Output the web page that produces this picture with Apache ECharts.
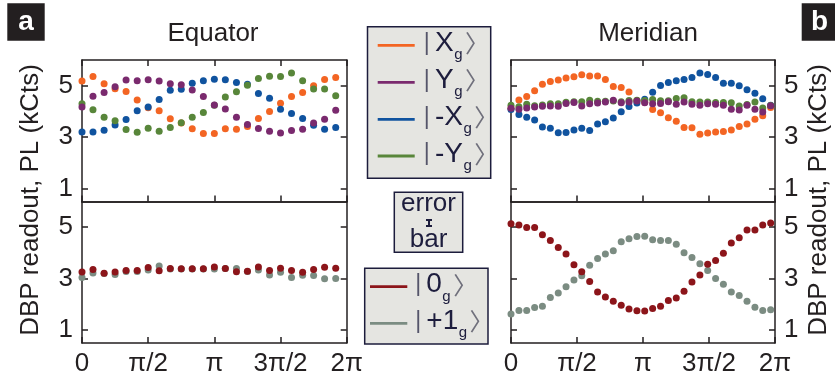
<!DOCTYPE html>
<html><head><meta charset="utf-8">
<script src="https://cdn.jsdelivr.net/npm/echarts@6/dist/echarts.min.js"></script>
<style>html,body{margin:0;padding:0;background:#fff}#c{width:835px;height:381px}</style>
</head><body><div id="c"></div>
<script>
const FONT = '"Liberation Sans", Arial, Helvetica, sans-serif';
const INK = '#231f20';
const NAVY = '#1c1c3c';
const KET_INK = '#1d1d3d';

// axis ticks (x in units of pi)
const xTickValues = [0, 0.5, 1, 1.5, 2];
const xTickLabels = ['0', 'π/2', 'π', '3π/2', '2π'];
const yTickValues = [1, 3, 5];

// phases (units of pi)
const equatorPhase = [0, 0.083, 0.167, 0.25, 0.333, 0.417, 0.5, 0.583, 0.667, 0.75, 0.833, 0.917,
  1, 1.083, 1.167, 1.25, 1.333, 1.417, 1.5, 1.583, 1.667, 1.75, 1.833, 1.917];
const meridianPhase = [0, 0.060, 0.119, 0.179, 0.238, 0.298, 0.358, 0.417, 0.477, 0.536, 0.596, 0.656,
  0.715, 0.775, 0.835, 0.894, 0.954, 1.013, 1.073, 1.133, 1.192, 1.252, 1.311, 1.371, 1.431, 1.490,
  1.550, 1.609, 1.669, 1.729, 1.788, 1.848, 1.907, 1.967];

// Equator, PL (kCts)
const eqX  = [5.18,5.36,5.08,4.88,4.78,4.45,4.14,4.03,3.72,3.55,3.33,3.14,3.14,3.33,3.31,3.42,3.73,4.00,4.32,4.58,4.74,5.00,5.24,5.32];
const eqY  = [4.17,4.59,4.74,4.96,5.22,5.19,5.23,5.18,5.08,5.04,4.83,4.58,4.25,4.10,3.77,3.49,3.34,3.23,3.16,3.26,3.31,3.55,3.70,4.05];
const eqNX = [3.20,3.20,3.27,3.47,3.69,4.03,4.17,4.46,4.82,4.86,5.10,5.19,5.25,5.23,5.13,5.06,4.70,4.51,4.09,3.92,3.73,3.46,3.31,3.38];
const eqNY = [4.30,4.07,3.77,3.64,3.30,3.19,3.35,3.23,3.38,3.56,3.77,3.96,4.24,4.56,4.77,5.02,5.28,5.37,5.36,5.49,5.19,4.87,4.87,4.61];
const eq0  = [3.26,3.36,3.21,3.26,3.32,3.32,3.43,3.31,3.40,3.39,3.39,3.39,3.45,3.40,3.27,3.29,3.45,3.32,3.41,3.32,3.25,3.36,3.44,3.41];
const eq1  = [3.05,3.22,3.20,3.16,3.28,3.28,3.34,3.49,3.38,3.38,3.38,3.38,3.38,3.40,3.40,3.28,3.34,3.14,3.25,3.05,3.13,3.12,3.00,3.01];

// Meridian, PL (kCts)
const meX  = [4.12,4.45,4.58,4.80,5.06,5.16,5.22,5.30,5.35,5.43,5.38,5.38,5.24,4.97,4.93,4.76,4.43,4.36,4.08,3.95,3.76,3.62,3.38,3.37,3.11,3.16,3.20,3.22,3.28,3.42,3.51,3.70,3.83,4.15];
const meNX = [4.08,3.88,3.77,3.67,3.40,3.35,3.17,3.18,3.28,3.35,3.26,3.51,3.60,3.75,3.99,4.19,4.33,4.47,4.75,5.01,5.13,5.19,5.24,5.32,5.49,5.44,5.32,5.10,5.10,5.00,4.84,4.71,4.49,4.24];
const meY  = [4.12,4.09,4.13,4.17,4.20,4.21,4.20,4.31,4.35,4.21,4.30,4.33,4.37,4.44,4.34,4.37,4.41,4.34,4.30,4.31,4.38,4.28,4.37,4.28,4.24,4.30,4.28,4.24,4.09,4.06,4.24,4.09,3.98,4.22];
const meNY = [4.24,4.18,4.28,4.22,4.25,4.30,4.30,4.36,4.38,4.38,4.44,4.40,4.40,4.41,4.38,4.43,4.44,4.43,4.46,4.42,4.42,4.50,4.53,4.38,4.37,4.37,4.35,4.35,4.34,4.21,4.27,4.37,4.13,4.23];
const me0  = [5.14,5.09,4.99,4.99,4.71,4.48,4.21,3.96,3.54,3.27,2.89,2.48,2.29,2.12,1.97,1.82,1.75,1.74,1.84,1.93,2.15,2.25,2.51,2.87,3.14,3.56,3.71,3.99,4.39,4.59,4.89,4.89,5.09,5.16];
const me1  = [1.63,1.76,1.76,1.88,1.93,2.27,2.44,2.69,2.95,3.11,3.52,3.78,3.96,4.09,4.44,4.55,4.64,4.65,4.51,4.48,4.48,4.34,4.01,3.82,3.58,3.32,3.01,2.78,2.48,2.35,2.12,1.89,1.76,1.79];

const stateNames = ['Xg', 'Yg', '-Xg', '-Yg'];
const dbpNames = ['0g', '+1g'];
const ketMain = {'Xg':'X', 'Yg':'Y', '-Xg':'-X', '-Yg':'-Y', '0g':'0', '+1g':'+1'};
const colors = {'Xg':'#f36523', 'Yg':'#7a2a6e', '-Xg':'#10539f', '-Yg':'#58863a', '0g':'#8c151a', '+1g':'#7b8c82'};

const chart = echarts.init(document.getElementById('c'), null, {renderer:'canvas'});

const grids = [
  {left:82, top:60, width:264.7, height:141.5},
  {left:82, top:201.5, width:264.7, height:141.5},
  {left:511, top:60, width:264, height:141.5},
  {left:511, top:201.5, width:264, height:141.5}
];
const axLine = {color: INK, width: 1.5};
const xAxes = [], yAxes = [];
grids.forEach((g, i) => {
  const isBottom = i % 2 === 1, isRight = i >= 2;
  xAxes.push({gridIndex:i, type:'value', min:0, max:2, interval:0.5, position:'bottom',
    axisLine:{show:true, onZero:false, lineStyle:axLine},
    axisTick:{show:true, inside:true, length:6, lineStyle:axLine},
    axisLabel:{show:isBottom, margin:8, fontSize:26, color:INK, fontFamily:FONT,
      formatter: v => xTickLabels[xTickValues.indexOf(v)]},
    splitLine:{show:false}});
  xAxes.push({gridIndex:i, type:'value', min:0, max:2, interval:0.5, position:'top',
    axisLine:{show:true, onZero:false, lineStyle:axLine},
    axisTick:{show:!isBottom, inside:true, length:6, lineStyle:axLine},
    axisLabel:{show:false}, splitLine:{show:false}});
  yAxes.push({gridIndex:i, type:'value', min:0.5, max:6, position:'left',
    axisLine:{show:true, onZero:false, lineStyle:axLine},
    axisTick:{show:true, inside:true, length:6, lineStyle:axLine, customValues:yTickValues},
    axisLabel:{show:!isRight, customValues:yTickValues, margin:9, fontSize:26, color:INK, fontFamily:FONT},
    splitLine:{show:false}});
  yAxes.push({gridIndex:i, type:'value', min:0.5, max:6, position:'right',
    axisLine:{show:true, onZero:false, lineStyle:axLine},
    axisTick:{show:true, inside:true, length:6, lineStyle:axLine, customValues:yTickValues},
    axisLabel:{show:isRight, customValues:yTickValues, margin:9, fontSize:26, color:INK, fontFamily:FONT},
    splitLine:{show:false}});
});

function sc(name, phase, vals, gi) {
  return {type:'scatter', name, xAxisIndex:2*gi, yAxisIndex:2*gi,
    data: phase.map((p, j) => [p, vals[j]]), symbolSize:7,
    itemStyle:{color:colors[name], opacity:1}, silent:true};
}
const series = [
  sc('Xg', equatorPhase, eqX, 0), sc('-Xg', equatorPhase, eqNX, 0), sc('-Yg', equatorPhase, eqNY, 0), sc('Yg', equatorPhase, eqY, 0),
  sc('+1g', equatorPhase, eq1, 1), sc('0g', equatorPhase, eq0, 1),
  sc('Xg', meridianPhase, meX, 2), sc('-Xg', meridianPhase, meNX, 2), sc('-Yg', meridianPhase, meNY, 2), sc('Yg', meridianPhase, meY, 2),
  sc('+1g', meridianPhase, me1, 3), sc('0g', meridianPhase, me0, 3)
];

// text measuring for ket labels
const mctx = document.createElement('canvas').getContext('2d');
function tw(t, font) { mctx.font = font; return mctx.measureText(t).width; }
const MAIN_FONT = '28px ' + FONT, SUB_FONT = '15px ' + FONT;

function legendEntry(name, lx0, lx1, ly, xBar, xText) {
  const wMain = tw(ketMain[name], MAIN_FONT);
  const xSub = xText + wMain + 0.5;
  const xKet = xSub + tw('g', SUB_FONT) + 2.5;
  return [
    {type:'line', shape:{x1:lx0, y1:ly, x2:lx1, y2:ly}, style:{stroke:colors[name], lineWidth:2.8}},
    {type:'text', x:xBar, y:ly - 2, style:{text:'|', font:'23px ' + FONT, fill:'#55556a', align:'center', verticalAlign:'middle'}},
    {type:'text', x:xText, y:ly - 2, style:{text:ketMain[name], font:MAIN_FONT, fill:KET_INK, align:'left', verticalAlign:'middle'}},
    {type:'text', x:xSub, y:ly + 10, style:{text:'g', font:SUB_FONT, fill:KET_INK, align:'left', verticalAlign:'middle'}},
    {type:'text', x:xKet, y:ly - 2, style:{text:'〉', font:'24px "Noto Sans CJK JP", sans-serif', fill:'#70707c', align:'left', verticalAlign:'middle'}}
  ];
}

const legendY1 = [45.3, 82.3, 119.3, 156.0];
const legendY2 = [286.7, 323.3];
let legendEls = [
  {type:'rect', shape:{x:367.5, y:26.7, width:123.2, height:151.6}, style:{fill:'#e5e5e1', stroke:NAVY, lineWidth:1.5}},
  {type:'rect', shape:{x:364.7, y:268.3, width:123.3, height:75.7}, style:{fill:'#e5e5e1', stroke:NAVY, lineWidth:1.5}}
];
stateNames.forEach((n, i) => { legendEls = legendEls.concat(legendEntry(n, 377.7, 414.7, legendY1[i], 426.7, 435)); });
dbpNames.forEach((n, i) => { legendEls = legendEls.concat(legendEntry(n, 370, 407.3, legendY2[i], 418.3, 426.3)); });

const option = {
  animation:false,
  backgroundColor:'#ffffff',
  grid: grids,
  xAxis: xAxes,
  yAxis: yAxes,
  series,
  graphic: [
    {type:'rect', shape:{x:7.3, y:3.3, width:37.4, height:37.4}, style:{fill:INK}},
    {type:'text', x:26, y:22, style:{text:'a', fill:'#fff', font:'bold 28px ' + FONT, align:'center', verticalAlign:'middle'}},
    {type:'rect', shape:{x:801.7, y:3.3, width:34, height:37.4}, style:{fill:INK}},
    {type:'text', x:819.5, y:22, style:{text:'b', fill:'#fff', font:'bold 28px ' + FONT, align:'center', verticalAlign:'middle'}},
    {type:'text', x:213, y:34, style:{text:'Equator', fill:INK, font:'26px ' + FONT, align:'center', verticalAlign:'middle'}},
    {type:'text', x:648, y:34, style:{text:'Meridian', fill:INK, font:'26px ' + FONT, align:'center', verticalAlign:'middle'}},
    {type:'text', x:31, y:200, rotation:Math.PI/2, style:{text:'DBP readout, PL (kCts)', fill:INK, font:'26px ' + FONT, align:'center', verticalAlign:'middle'}},
    {type:'text', x:819, y:200, rotation:Math.PI/2, style:{text:'DBP readout, PL (kCts)', fill:INK, font:'26px ' + FONT, align:'center', verticalAlign:'middle'}},
    {type:'rect', shape:{x:394.3, y:192.3, width:68.4, height:60}, style:{fill:'#e5e5e1', stroke:NAVY, lineWidth:1.5}},
    {type:'text', x:428.5, y:204, style:{text:'error', fill:KET_INK, font:'26px ' + FONT, align:'center', verticalAlign:'middle'}},
    {type:'text', x:428.5, y:240, style:{text:'bar', fill:KET_INK, font:'26px ' + FONT, align:'center', verticalAlign:'middle'}},
    {type:'line', shape:{x1:429, y1:220, x2:429, y2:226}, style:{stroke:KET_INK, lineWidth:2}},
    {type:'line', shape:{x1:426, y1:220, x2:432, y2:220}, style:{stroke:KET_INK, lineWidth:2}},
    {type:'line', shape:{x1:426, y1:226, x2:432, y2:226}, style:{stroke:KET_INK, lineWidth:2}}
  ].concat(legendEls)
};
chart.setOption(option);
</script>
</body></html>
